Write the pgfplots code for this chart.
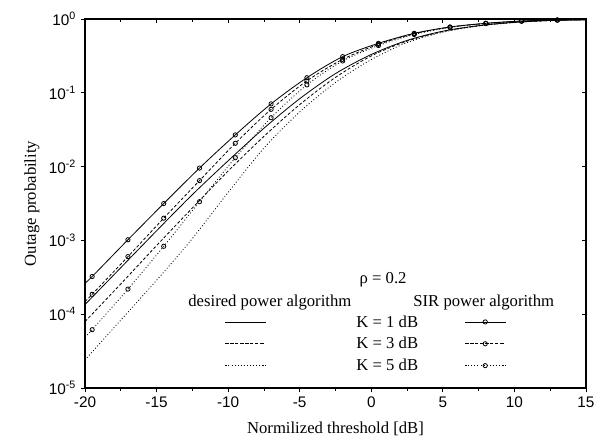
\documentclass[border=0pt]{standalone}
\usepackage{fontspec}
\setmainfont{Liberation Serif}
\setsansfont{Liberation Sans}
\usepackage{pgfplots}
\pgfplotsset{compat=1.18}
% one legend image for every curve: a 30pt line, mark (if any) in the middle
\pgfplotsset{legend image code/.code={%
  \draw[#1, mark indices={2}] plot coordinates {(0pt,0pt) (15pt,0pt) (30pt,0pt)};}}

\begin{document}
\begin{tikzpicture}
\begin{axis}[
    at={(0,0)}, anchor=south west,
    scale only axis, width=375.75pt, height=276.75pt,
    xmin=-20, xmax=15, ymin=1e-5, ymax=1,
    ymode=log, log basis y=10,
    xtick={-20,-15,...,15}, minor x tick num=1,
    ytick={1e-5,1e-4,1e-3,1e-2,1e-1,1},
    major tick length=3.2pt, minor tick length=2pt,
    axis line style={line width=0.8pt},
    tick style={black, line width=0.6pt},
    tick pos=left, tick align=outside,
    xlabel={Normilized threshold [dB]},
    ylabel={Outage probability},
    every axis x label/.style={at={(axis description cs:0.5,-0.122)}, anchor=base,
      font=\fontsize{12.5}{14}\selectfont},
    every axis y label/.style={at={(axis description cs:-0.106,0.5)}, anchor=center, rotate=90,
      font=\fontsize{12.5}{14}\selectfont},
    tick label style={font=\sffamily\fontsize{11.5}{13}\selectfont},
    xticklabel={\pgfmathprintnumber[assume math mode=true]{\tick}},
    yticklabel={10\textsuperscript{\pgfmathparse{int(round(\tick))}\pgfmathresult}},
    legend columns=2,
    legend style={at={(0.2794,0.1932)}, anchor=north west, draw=none, fill=none,
      inner sep=0pt, outer sep=0pt, column sep=0pt, row sep=8.6pt,
      nodes={inner sep=0pt, text height=7.8pt, text depth=0pt,
        font=\fontsize{12.5}{14}\selectfont}},
    legend cell align=left,
]
% desired power algorithm, K = 1 dB
\addplot[smooth, line width=0.6pt, no markers] coordinates {
  (-20,1.35e-4) (-17.5,4.27e-4) (-15,1.35e-3) (-12.5,4.17e-3) (-10,1.20e-2)
  (-7.5,3.31e-2) (-5,8.32e-2) (-2.5,0.182) (0,0.331) (2.5,0.513) (5,0.684)
  (7.5,0.813) (10,0.902) (12.5,0.955) (15,0.977)
};
\addlegendentry{\hspace*{68pt}K = 1 dB\hspace*{35pt}}
% SIR power algorithm, K = 1 dB
\addplot[smooth, line width=0.6pt, mark=o, mark size=1.6pt,
  mark options={solid, fill=white}, mark indices={2,...,15}] coordinates {
  (-20,2.63e-4) (-19.5,3.24e-4) (-17,1.02e-3) (-14.5,3.16e-3) (-12,9.55e-3)
  (-9.5,2.69e-2) (-7,7.08e-2) (-4.5,0.160) (-2,0.309) (0.5,0.468) (3,0.640)
  (5.5,0.780) (8,0.875) (10.5,0.940) (13,0.970) (15,0.982)
};
\addlegendentry{\mbox{}}
% desired, K = 3 dB
\addplot[smooth, line width=0.6pt, no markers, dash pattern=on 2.25pt off 1.5pt] coordinates {
  (-20,7.94e-5) (-17.5,2.57e-4) (-15,8.51e-4) (-12.5,2.75e-3) (-10,8.71e-3)
  (-7.5,2.57e-2) (-5,6.92e-2) (-2.5,0.162) (0,0.316) (2.5,0.501) (5,0.676)
  (7.5,0.809) (10,0.900) (12.5,0.953) (15,0.977)
};
\addlegendentry{\hspace*{68pt}K = 3 dB\hspace*{35pt}}
% SIR, K = 3 dB
\addplot[smooth, line width=0.6pt, dash pattern=on 2.25pt off 1.5pt, mark=o, mark size=1.6pt,
  mark options={solid, fill=white}, mark indices={2,...,15}] coordinates {
  (-20,1.48e-4) (-19.5,1.86e-4) (-17,6.03e-4) (-14.5,2.0e-3) (-12,6.46e-3)
  (-9.5,2.07e-2) (-7,5.97e-2) (-4.5,0.145) (-2,0.284) (0.5,0.454) (3,0.631)
  (5.5,0.776) (8,0.871) (10.5,0.937) (13,0.968) (15,0.981)
};
\addlegendentry{\mbox{}}
% desired, K = 5 dB
\addplot[smooth, line width=0.6pt, no markers, dash pattern=on 0.7pt off 1.6pt] coordinates {
  (-20,2.40e-5) (-17.5,8.32e-5) (-15,2.88e-4) (-12.5,1.06e-3) (-10,4.47e-3)
  (-7.5,1.78e-2) (-5,5.50e-2) (-2.5,0.138) (0,0.282) (2.5,0.479) (5,0.661)
  (7.5,0.804) (10,0.897) (12.5,0.953) (15,0.977)
};
\addlegendentry{\hspace*{68pt}K = 5 dB\hspace*{35pt}}
% SIR, K = 5 dB
\addplot[smooth, line width=0.6pt, dash pattern=on 0.7pt off 1.6pt, mark=o, mark size=1.6pt,
  mark options={solid, fill=white}, mark indices={2,...,15}] coordinates {
  (-20,4.9e-5) (-19.5,6.17e-5) (-17,2.19e-4) (-14.5,8.32e-4) (-12,3.35e-3)
  (-9.5,1.32e-2) (-7,4.60e-2) (-4.5,0.128) (-2,0.270) (0.5,0.437) (3,0.617)
  (5.5,0.767) (8,0.867) (10.5,0.933) (13,0.966) (15,0.979)
};
\addlegendentry{\mbox{}}

\node[font=\fontsize{12.5}{14}\selectfont, anchor=base] at (axis description cs:0.595,0.2837) {ρ = 0.2};
\node[font=\fontsize{12.5}{14}\selectfont, anchor=base] at (axis description cs:0.369,0.2222) {desired power algorithm};
\node[font=\fontsize{12.5}{14}\selectfont, anchor=base] at (axis description cs:0.796,0.2222) {SIR power algorithm};
\end{axis}
% top and right ticks point inwards
\begin{axis}[
    at={(0,0)}, anchor=south west,
    scale only axis, width=375.75pt, height=276.75pt,
    xmin=-20, xmax=15, ymin=1e-5, ymax=1,
    ymode=log, log basis y=10,
    xtick={-20,-15,...,15}, minor x tick num=1,
    ytick={1e-5,1e-4,1e-3,1e-2,1e-1,1},
    major tick length=3.2pt, minor tick length=2pt,
    axis line style={line width=0.8pt},
    tick style={black, line width=0.6pt},
    tick pos=right, tick align=inside,
    xticklabels={}, yticklabels={},
]
\end{axis}
\pgfresetboundingbox
\path (-63.75pt,-42pt) rectangle (381.75pt,291pt);
\end{tikzpicture}
\end{document}
